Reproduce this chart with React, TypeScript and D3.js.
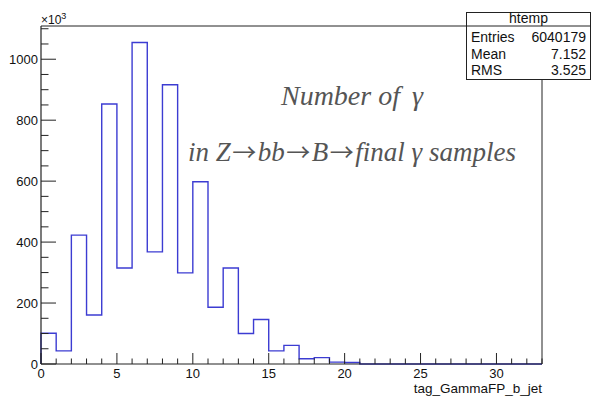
import React from "react";
import * as d3 from "d3";

const binEdges = d3.range(0, 34); // 0..33
const counts = [101, 43, 423, 161, 853, 315, 1055, 368, 916, 299, 598, 186, 315, 100, 146, 43, 61, 17, 21, 6, 5, 0, 0, 0, 0, 0, 0, 0, 0, 0, 0, 0, 0];
const yMajorTicks = [0, 200, 400, 600, 800, 1000];
const xMajorTicks = [0, 5, 10, 15, 20, 25, 30];
const statsLabels = ["Entries", "Mean", "RMS"];
const statsValues = ["6040179", "7.152", "3.525"];
const histName = "htemp";
const xTitle = "tag_GammaFP_b_jet";
const line2Parts = ["in Z", "bb", "B", "final γ samples"];

const W = 592, H = 397;
const fx0 = 41, fx1 = 542, fy0 = 26, fy1 = 364;

export default function App() {
  const x = d3.scaleLinear().domain([0, 33]).range([fx0, fx1]);
  const y = d3.scaleLinear().domain([0, 1109]).range([fy1, fy0]);

  let d = `M${x(0)},${y(0)}`;
  counts.forEach((c, i) => {
    d += `L${x(binEdges[i])},${y(c)}L${x(binEdges[i + 1])},${y(c)}`;
  });
  d += `L${x(33)},${y(0)}`;

  const yMinor = d3.range(0, 1101, 50).filter((v) => v % 200 !== 0);
  const xMinor = d3.range(0, 33.01, 1).filter((v) => v % 5 !== 0);
  const axisColor = "#222";
  const sans = "'Liberation Sans', Arial, sans-serif";
  const serif = "'Liberation Serif', 'Times New Roman', serif";

  return (
    <svg width={W} height={H} style={{ position: "absolute", left: 0, top: 0, background: "#fff" }}>
      <rect x={0} y={0} width={W} height={H} fill="#fff" />
      <path d={d} fill="none" stroke="#3c3cd2" strokeWidth={1.4} />
      {/* frame */}
      <line x1={fx0} y1={fy0} x2={fx1} y2={fy0} stroke={axisColor} strokeWidth={1} />
      <line x1={fx1} y1={fy0} x2={fx1} y2={fy1} stroke={axisColor} strokeWidth={1} />
      <line x1={fx0} y1={fy0} x2={fx0} y2={fy1} stroke={axisColor} strokeWidth={1.2} />
      <line x1={fx0} y1={fy1} x2={fx1} y2={fy1} stroke={axisColor} strokeWidth={1.2} />
      {/* y ticks */}
      {yMajorTicks.map((v) => (
        <g key={"ym" + v}>
          <line x1={fx0} x2={fx0 + 15} y1={y(v)} y2={y(v)} stroke={axisColor} />
          <text x={38} y={y(v) + 4.6} textAnchor="end" fontFamily={sans} fontSize={13} fill="#111">{v}</text>
        </g>
      ))}
      {yMinor.map((v) => (
        <line key={"yn" + v} x1={fx0} x2={fx0 + 7.5} y1={y(v)} y2={y(v)} stroke={axisColor} />
      ))}
      {/* x ticks */}
      {xMajorTicks.map((v) => (
        <g key={"xm" + v}>
          <line x1={x(v)} x2={x(v)} y1={fy1} y2={fy1 - 11} stroke={axisColor} />
          <text x={x(v)} y={378} textAnchor="middle" fontFamily={sans} fontSize={13} fill="#111">{v}</text>
        </g>
      ))}
      {xMinor.map((v) => (
        <line key={"xn" + v} x1={x(v)} x2={x(v)} y1={fy1} y2={fy1 - 5.5} stroke={axisColor} />
      ))}
      <text x={fx1} y={392.5} textAnchor="end" fontFamily={sans} fontSize={13.5} fill="#111">{xTitle}</text>
      {/* exponent */}
      <text x={41} y={24} fontFamily={sans} fontSize={12} fill="#111">
        ×10<tspan dy={-5} fontSize={9}>3</tspan>
      </text>
      {/* annotations */}
      <text x={352} y={105} textAnchor="middle" fontFamily={serif} fontStyle="italic" fontSize={28} fill="#555">
        Number of<tspan dx={12}>γ</tspan>
      </text>
      <text x={352} y={161} textAnchor="middle" fontFamily={serif} fontStyle="italic" fontSize={27} fill="#555">
        {line2Parts.map((p, i) => (
          <React.Fragment key={i}>
            {i > 0 && (
              <tspan fontFamily="'Noto Sans CJK SC', 'DejaVu Sans', sans-serif" fontStyle="normal" fontSize={24} dx={1.5}>→</tspan>
            )}
            <tspan dx={i > 0 ? 1.5 : 0}>{p}</tspan>
          </React.Fragment>
        ))}
      </text>
      {/* stats box */}
      <rect x={466.5} y={12.5} width={124} height={67} fill="#fff" stroke={axisColor} strokeWidth={1} />
      <line x1={466.5} x2={590.5} y1={26} y2={26} stroke={axisColor} />
      <text x={528.5} y={23} textAnchor="middle" fontFamily={sans} fontSize={14} fill="#111">{histName}</text>
      {statsLabels.map((l, i) => (
        <g key={l}>
          <text x={471} y={42 + i * 16.5} fontFamily={sans} fontSize={14} fill="#111">{l}</text>
          <text x={586} y={42 + i * 16.5} textAnchor="end" fontFamily={sans} fontSize={14} fill="#111">{statsValues[i]}</text>
        </g>
      ))}
    </svg>
  );
}
